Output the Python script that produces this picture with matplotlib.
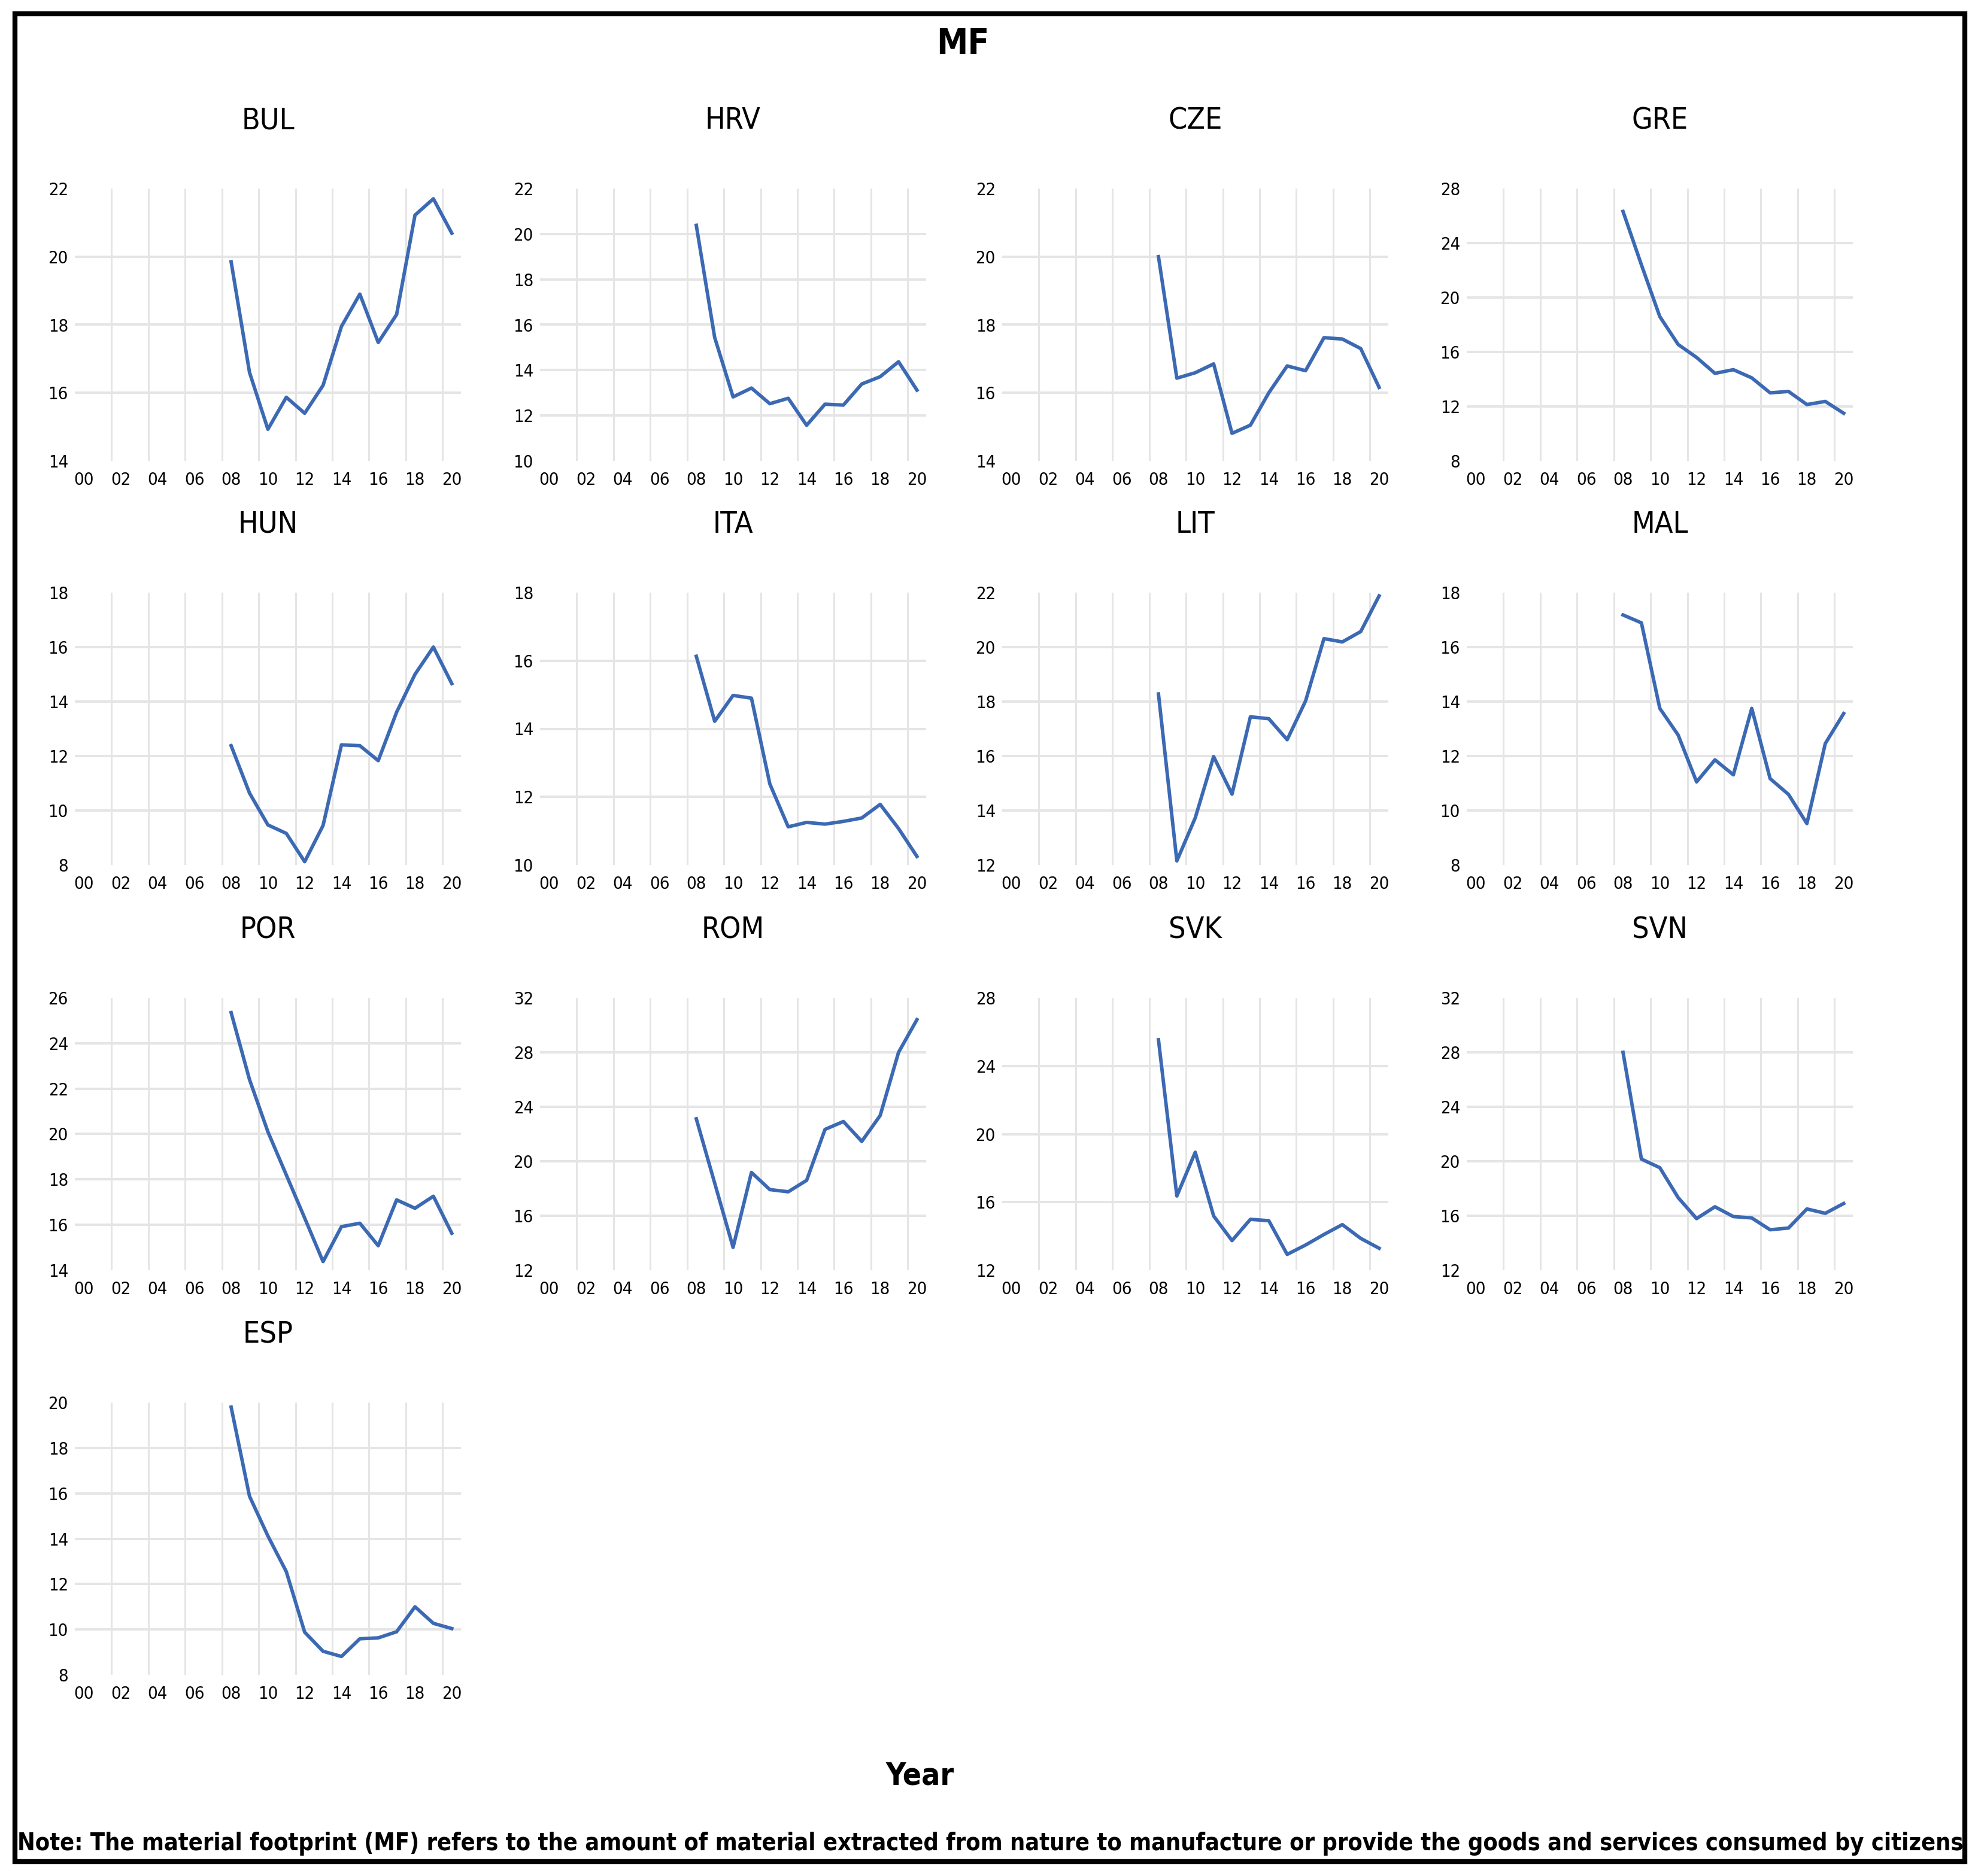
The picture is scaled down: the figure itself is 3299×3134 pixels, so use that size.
import os

import matplotlib

matplotlib.use("Agg")
import matplotlib.pyplot as plt
from matplotlib import font_manager as fm
from matplotlib.patches import Rectangle

W, H = 3299, 3134

# Material footprint per country, 2008-2020
YEARS = list(range(2008, 2021))
BUL = [19.85, 16.6, 14.93, 15.87, 15.4, 16.22, 17.95, 18.9, 17.48, 18.3, 21.22, 21.7, 20.69]
HRV = [20.38, 15.44, 12.82, 13.21, 12.52, 12.76, 11.57, 12.5, 12.46, 13.39, 13.71, 14.37, 13.12]
CZE = [20.0, 16.43, 16.59, 16.85, 14.81, 15.05, 16.0, 16.79, 16.65, 17.62, 17.58, 17.3, 16.16]
GRE = [26.32, 22.4, 18.6, 16.55, 15.6, 14.43, 14.7, 14.1, 13.0, 13.1, 12.14, 12.37, 11.5]
HUN = [12.38, 10.64, 9.47, 9.16, 8.12, 9.45, 12.41, 12.38, 11.83, 13.61, 15.0, 16.0, 14.66]
ITA = [16.13, 14.22, 14.98, 14.9, 12.38, 11.12, 11.25, 11.2, 11.28, 11.38, 11.78, 11.07, 10.25]
LIT = [18.28, 12.15, 13.73, 15.98, 14.6, 17.44, 17.37, 16.6, 18.02, 20.31, 20.19, 20.57, 21.88]
MAL = [17.18, 16.89, 13.75, 12.77, 11.05, 11.86, 11.31, 13.75, 11.17, 10.59, 9.52, 12.46, 13.56]
POR = [25.35, 22.4, 20.1, 18.2, 16.3, 14.38, 15.92, 16.07, 15.08, 17.1, 16.73, 17.26, 15.63]
ROM = [23.12, 18.4, 13.68, 19.18, 17.92, 17.76, 18.6, 22.34, 22.92, 21.46, 23.36, 28.0, 30.4]
SVK = [25.54, 16.36, 18.93, 15.19, 13.74, 14.99, 14.91, 12.93, 13.48, 14.1, 14.68, 13.87, 13.29]
SVN = [28.0, 20.16, 19.53, 17.33, 15.79, 16.66, 15.94, 15.84, 14.97, 15.1, 16.5, 16.18, 16.9]
ESP = [19.8, 15.87, 14.12, 12.55, 9.88, 9.04, 8.81, 9.59, 9.63, 9.9, 11.0, 10.27, 10.04]

X_TICKS = list(range(2000, 2021, 2))
X_LABELS = ["00", "02", "04", "06", "08", "10", "12", "14", "16", "18", "20"]

# name, values, y-min, y-max, y-step
PANELS = [
    ("BUL", BUL, 14, 22, 2), ("HRV", HRV, 10, 22, 2), ("CZE", CZE, 14, 22, 2), ("GRE", GRE, 8, 28, 4),
    ("HUN", HUN, 8, 18, 2), ("ITA", ITA, 10, 18, 2), ("LIT", LIT, 12, 22, 2), ("MAL", MAL, 8, 18, 2),
    ("POR", POR, 14, 26, 2), ("ROM", ROM, 12, 32, 4), ("SVK", SVK, 12, 28, 4), ("SVN", SVN, 12, 32, 4),
    ("ESP", ESP, 8, 20, 2),
]

LINE = "#3C69B3"
GRID = "#E5E5E5"

# panel grid in pixels of the final image
COL_LEFT = [125, 902, 1674, 2450]
ROW_TOP = [315, 990, 1667, 2343]
AX_W, AX_H = 645, 455


def font_files():
    files = {}
    for p in fm.findSystemFonts():
        files[os.path.basename(p)] = p
    for f in fm.fontManager.ttflist:
        files.setdefault(os.path.basename(f.fname), f.fname)
    return files


FILES = font_files()


def pick(candidates, family, weight):
    for c in candidates:
        if c in FILES:
            return fm.FontProperties(fname=FILES[c])
    return fm.FontProperties(family=family, weight=weight)


REG = pick(["LiberationSansNarrow-Regular.ttf", "DejaVuSansCondensed.ttf"], "Lato", "normal")
BOLD = pick(["LiberationSansNarrow-Bold.ttf", "DejaVuSansCondensed-Bold.ttf"], "Lato", "bold")


def fp(base, size):
    p = base.copy()
    p.set_size(size)
    return p


fig = plt.figure(figsize=(W / 100, H / 100), dpi=100)
fig.patch.set_facecolor("white")

tick_fp = fp(REG, 21)
title_fp = fp(REG, 36)

for i, (name, vals, ymin, ymax, step) in enumerate(PANELS):
    r, c = divmod(i, 4)
    left, top = COL_LEFT[c], ROW_TOP[r]
    ax = fig.add_axes([left / W, 1 - (top + AX_H) / H, AX_W / W, AX_H / H])
    ax.set_xlim(1999.5, 2020.5)
    ax.set_ylim(ymin, ymax)
    yt = list(range(ymin, ymax + 1, step))
    for y in yt[1:-1]:
        ax.axhline(y, color=GRID, lw=2.9, zorder=1)
    for x in range(2001, 2020, 2):
        ax.axvline(x + 0.5, color=GRID, lw=2.2, zorder=1)
    ax.plot(YEARS, vals, color=LINE, lw=4.2, zorder=3)
    ax.set_xticks(X_TICKS)
    ax.set_xticklabels(X_LABELS, fontproperties=tick_fp)
    ax.set_yticks(yt)
    ax.set_yticklabels([str(y) for y in yt], fontproperties=tick_fp)
    ax.tick_params(length=0)
    ax.tick_params(axis="x", pad=13)
    ax.tick_params(axis="y", pad=8)
    for s in ax.spines.values():
        s.set_visible(False)
    fig.text((left + AX_W / 2) / W, 1 - (top - 114) / H, name,
             ha="center", va="center", fontproperties=title_fp)

fig.text(1608 / W, 1 - 73 / H, "MF", ha="center", va="center", fontproperties=fp(BOLD, 42))
fig.text(1537 / W, 1 - 2967 / H, "Year", ha="center", va="center", fontproperties=fp(BOLD, 37))

note = fig.text(29 / W, 1 - 3080 / H,
                "Note: The material footprint (MF) refers to the amount of material extracted "
                "from nature to manufacture or provide the goods and services consumed by citizens",
                ha="left", va="center", fontproperties=fp(BOLD, 30))
# shrink / grow the note so it spans the frame like the original
renderer = fig.canvas.get_renderer()
width = note.get_window_extent(renderer).width
note.set_fontsize(30 * 3250 / width)

fig.patches.append(Rectangle((25 / W, 1 - 3110 / H), (3282 - 25) / W, (3110 - 23) / H,
                             transform=fig.transFigure, fill=False, edgecolor="black", lw=6))

fig.savefig("out.png", dpi=100)
